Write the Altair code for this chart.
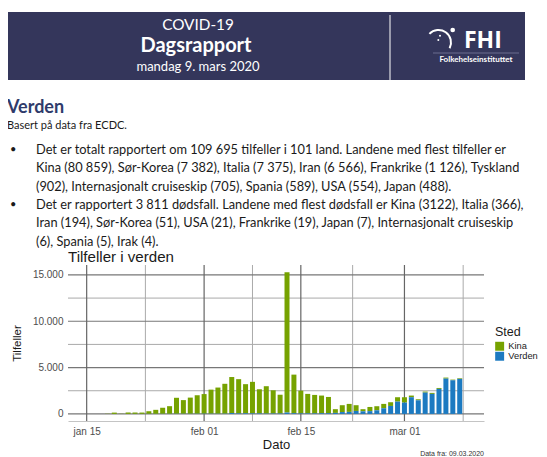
import altair as alt
import pandas as pd

# ---------------- data ----------------
dates = pd.date_range("2020-01-18", "2020-03-09", freq="D").strftime("%Y-%m-%d").tolist()

kina = [20, 140, 20, 150, 145, 140, 280, 430, 650, 820, 1720, 1470, 1740, 1990,
        2110, 2590, 2820, 3220, 3880, 3690, 3140, 3400, 2600, 2950, 2500, 2020,
        15150, 4160, 2450, 2100, 1990, 1900, 1750, 400, 740, 860, 620, 230, 450,
        440, 470, 400, 470,
        580, 180, 110, 110, 110, 100, 110, 70, 70]
verden = [0, 1, 2, 3, 5, 5, 10, 10, 15, 15, 20, 20, 20, 25,
          30, 30, 25, 30, 100, 60, 70, 60, 60, 40, 50, 50,
          150, 80, 60, 60, 60, 80, 80, 110, 200, 220, 320, 280, 300,
          390, 610, 860, 1330,
          1220, 1800, 1470, 2300, 2160, 2700, 3810, 3630, 3780]
steder = ["Kina", "Verden"]
farger = ["#76A200", "#1C7AC1"]

x_major = ["2020-01-15", "2020-02-01", "2020-02-15", "2020-03-01"]
x_minor = ["2020-01-23T12:00", "2020-02-08T00:00", "2020-02-22T12:00", "2020-03-09T12:00"]
y_major = [0, 5000, 10000, 15000]
y_minor = [2500, 7500, 12500]

header_lines = ["COVID-19", "Dagsrapport", "mandag 9. mars 2020"]
logo_text = ["FHI", "Folkehelseinstituttet"]
section_title = "Verden"
section_sub = "Basert på data fra ECDC."
bullet1 = ["Det er totalt rapportert om 109 695 tilfeller i 101 land. Landene med flest tilfeller er",
           "Kina (80 859), Sør-Korea (7 382), Italia (7 375), Iran (6 566), Frankrike (1 126), Tyskland",
           "(902), Internasjonalt cruiseskip (705), Spania (589), USA (554), Japan (488)."]
bullet2 = ["Det er rapportert 3 811 dødsfall. Landene med flest dødsfall er Kina (3122), Italia (366),",
           "Iran (194), Sør-Korea (51), USA (21), Frankrike (19), Japan (7), Internasjonalt cruiseskip",
           "(6), Spania (5), Irak (4)."]
chart_title = "Tilfeller i verden"
source_note = "Data fra: 09.03.2020"

# ---------------- build ----------------
def ms(s):
    return int(pd.Timestamp(s, tz="UTC").value // 10**6)

rows = []
for d, k, v in zip(dates, kina, verden):
    rows.append({"date": d, "value": k, "Sted": "Kina", "ord": 1})
    rows.append({"date": d, "value": v, "Sted": "Verden", "ord": 0})
df = pd.DataFrame(rows)

FONT = "Liberation Sans"
BODY = "Lato"

xscale = alt.Scale(type="utc", domain=[ms("2020-01-13T00:30"), ms("2020-03-11T19:00")])
yscale = alt.Scale(domain=[-765, 16070], nice=False, zero=False)

xaxis = alt.Axis(values=[ms(d) for d in x_major],
                 labelExpr="lower(utcFormat(datum.value, '%b %d'))",
                 grid=False, ticks=False, tickSize=0, labelPadding=5,
                 labelFont=FONT, labelFontSize=10, labelColor="#4d4d4d",
                 domain=True, domainColor="#c4c4c4", domainWidth=1.2,
                 title="Dato", titleFont=FONT, titleFontSize=13, titleFontWeight="normal",
                 titleColor="#1a1a1a", titleX=208, titleY=23, titleBaseline="middle",
                 titleAlign="center")
yaxis = alt.Axis(values=y_major,
                 labelExpr="replace(format(datum.value, ','), ',', '.')",
                 grid=False, ticks=False, tickSize=0, labelPadding=5, domain=False,
                 labelFont=FONT, labelFontSize=10, labelColor="#4d4d4d",
                 title="Tilfeller", titleFont=FONT, titleFontSize=11.5, titleFontWeight="normal",
                 titleColor="#1a1a1a", titleX=-51, titleY=78, titleAngle=270,
                 titleBaseline="middle", titleAlign="center")

gx_major = alt.Chart(pd.DataFrame({"date": x_major})).mark_rule(color="#666666", strokeWidth=1.2).encode(
    x=alt.X("date:T", scale=xscale, axis=xaxis))
gx_minor = alt.Chart(pd.DataFrame({"date": x_minor})).mark_rule(color="#aaaaaa", strokeWidth=1).encode(
    x=alt.X("date:T", scale=xscale, axis=xaxis))
gy_major = alt.Chart(pd.DataFrame({"value": y_major})).mark_rule(color="#777777", strokeWidth=1.2).encode(
    y=alt.Y("value:Q", scale=yscale, axis=yaxis))
gy_minor = alt.Chart(pd.DataFrame({"value": y_minor})).mark_rule(color="#aaaaaa", strokeWidth=1).encode(
    y=alt.Y("value:Q", scale=yscale, axis=yaxis))

bars = alt.Chart(df).mark_bar(size=5).encode(
    x=alt.X("date:T", scale=xscale, axis=xaxis),
    y=alt.Y("value:Q", stack="zero", scale=yscale, axis=yaxis),
    color=alt.Color("Sted:N", scale=alt.Scale(domain=steder, range=farger),
                    legend=alt.Legend(orient="none", legendX=427, legendY=60.5,
                                      title="Sted", titleFont=FONT, titleFontSize=12.5,
                                      titleFontWeight="normal", titleColor="#1a1a1a",
                                      titlePadding=3.6, labelFont=FONT, labelFontSize=9.3,
                                      labelColor="#1a1a1a", symbolType="square",
                                      symbolSize=80, symbolStrokeWidth=0, symbolOpacity=1,
                                      rowPadding=-1, labelOffset=4)),
    order=alt.Order("ord:Q"),
)

ONE = alt.Data(values=[{"a": 1}])


def txt(s, x, y, size, color="#1a1a1a", weight="normal", align="left", font=BODY):
    return alt.Chart(alt.Data(values=[{"t": s}])).mark_text(
        align=align, baseline="middle", fontSize=size, fontWeight=weight,
        color=color, font=font).encode(x=alt.value(x), y=alt.value(y), text="t:N")


page = []
# header band
page.append(alt.Chart(ONE).mark_rect(color="#34365B").encode(
    x=alt.value(-61), x2=alt.value(457), y=alt.value(-253), y2=alt.value(-185)))
page.append(alt.Chart(ONE).mark_rule(color="white", strokeWidth=1).encode(
    x=alt.value(322), y=alt.value(-250), y2=alt.value(-185)))
page.append(txt(header_lines[0], 130, -240, 15.3, "white", align="center"))
page.append(txt(header_lines[1], 128, -219, 20, "white", weight="bold", align="center"))
page.append(txt(header_lines[2], 130, -198, 13, "white", align="center"))
# logo
page.append(alt.Chart(ONE).mark_arc(theta=5.47, theta2=8.33, radius=11.5, radius2=13.5,
                                    color="white").encode(x=alt.value(370.5), y=alt.value(-222.5)))
page.append(alt.Chart(ONE).mark_circle(size=22, color="white", opacity=1).encode(
    x=alt.value(384.7), y=alt.value(-235)))
page.append(alt.Chart(ONE).mark_circle(size=4, color="white", opacity=1).encode(
    x=alt.value(372), y=alt.value(-229.3)))
page.append(alt.Chart(ONE).mark_circle(size=4, color="white", opacity=1).encode(
    x=alt.value(370.3), y=alt.value(-225)))
page.append(txt(logo_text[0], 396, -224, 23, "white", weight="bold", font="Open Sans"))
page.append(alt.Chart(ONE).mark_rule(color="#6a6c90", strokeWidth=1).encode(
    x=alt.value(365), x2=alt.value(451), y=alt.value(-212)))
page.append(txt(logo_text[1], 408, -205.5, 8, "white", weight="bold", align="center"))
# section text
page.append(txt(section_title, -61, -157, 18, "#2F3B6B", weight="bold"))
page.append(txt(section_sub, -61, -139, 11))
for yy in (-115, -60):
    page.append(txt("•", -54.7, yy, 11, align="center"))
for s, yy in zip(bullet1, (-115, -96.7, -78.3)):
    page.append(txt(s, -32, yy, 12.8))
for s, yy in zip(bullet2, (-60, -41.7, -23.3)):
    page.append(txt(s, -32, yy, 12.8))
# chart title and source note
page.append(txt(chart_title, 0, -8.5, 15.1, font=FONT))
page.append(txt(source_note, 416, 189, 7, "#333333", align="right", font=FONT))

chart = alt.layer(gy_minor, gx_minor, gy_major, gx_major, bars, *page).properties(
    width=416, height=156,
    padding={"left": 60, "top": 257, "right": 55, "bottom": 36},
    autosize=alt.AutoSizeParams(type="none"),
    background="white",
).configure_view(stroke=None)

chart.save("out.html", embed_options={"renderer": "svg", "actions": False})
